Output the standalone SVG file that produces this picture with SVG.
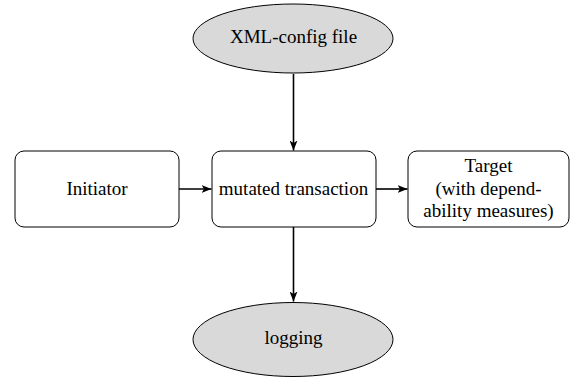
<svg xmlns="http://www.w3.org/2000/svg" width="571" height="379" viewBox="0 0 571 379">
<style>
  .box { fill: #ffffff; stroke: #000000; stroke-width: 1; }
  .ell { fill: #d9d9d9; stroke: #000000; stroke-width: 1; }
</style>
<defs>
  <marker id="arr" viewBox="0 0 10 8" refX="10" refY="4" markerWidth="10" markerHeight="8" markerUnits="userSpaceOnUse" orient="auto">
    <path d="M0,0 L10,4 L0,8 L2.5,4 Z" fill="#000000"/>
  </marker>
</defs>
<rect width="571" height="379" fill="#ffffff"/>
<g id="connectors" stroke="#000000" stroke-width="1.6" fill="none" marker-end="url(#arr)">
  <line x1="293.5" y1="74" x2="293.5" y2="150.5"/>
  <line x1="293.5" y1="227" x2="293.5" y2="301.5"/>
  <line x1="179" y1="189" x2="211.5" y2="189"/>
  <line x1="376" y1="189" x2="407.5" y2="189"/>
</g>
<g id="xml-config">
  <ellipse class="ell" cx="293" cy="38.5" rx="100" ry="34.5"/>
  <text x="293.5" y="43" text-anchor="middle" font-size="19" font-family="Liberation Serif">XML-config file</text>
</g>
<g id="initiator">
  <rect class="box" x="15" y="151" width="164" height="76" rx="9"/>
  <text x="97" y="195" text-anchor="middle" font-size="19" font-family="Liberation Serif">Initiator</text>
</g>
<g id="mutated">
  <rect class="box" x="212" y="151" width="164" height="76" rx="9"/>
  <text x="293.5" y="195" text-anchor="middle" font-size="19" font-family="Liberation Serif">mutated transaction</text>
</g>
<g id="target">
  <rect class="box" x="408" y="151" width="161" height="76" rx="9"/>
  <text x="488.5" y="172" text-anchor="middle" font-size="19" font-family="Liberation Serif">Target</text>
  <text x="488.5" y="194.5" text-anchor="middle" font-size="19" font-family="Liberation Serif">(with depend-</text>
  <text x="488.5" y="216.5" text-anchor="middle" font-size="19" font-family="Liberation Serif">ability measures)</text>
</g>
<g id="logging">
  <ellipse class="ell" cx="293" cy="339.5" rx="100" ry="37"/>
  <text x="293.5" y="343.5" text-anchor="middle" font-size="19" font-family="Liberation Serif">logging</text>
</g>
</svg>
